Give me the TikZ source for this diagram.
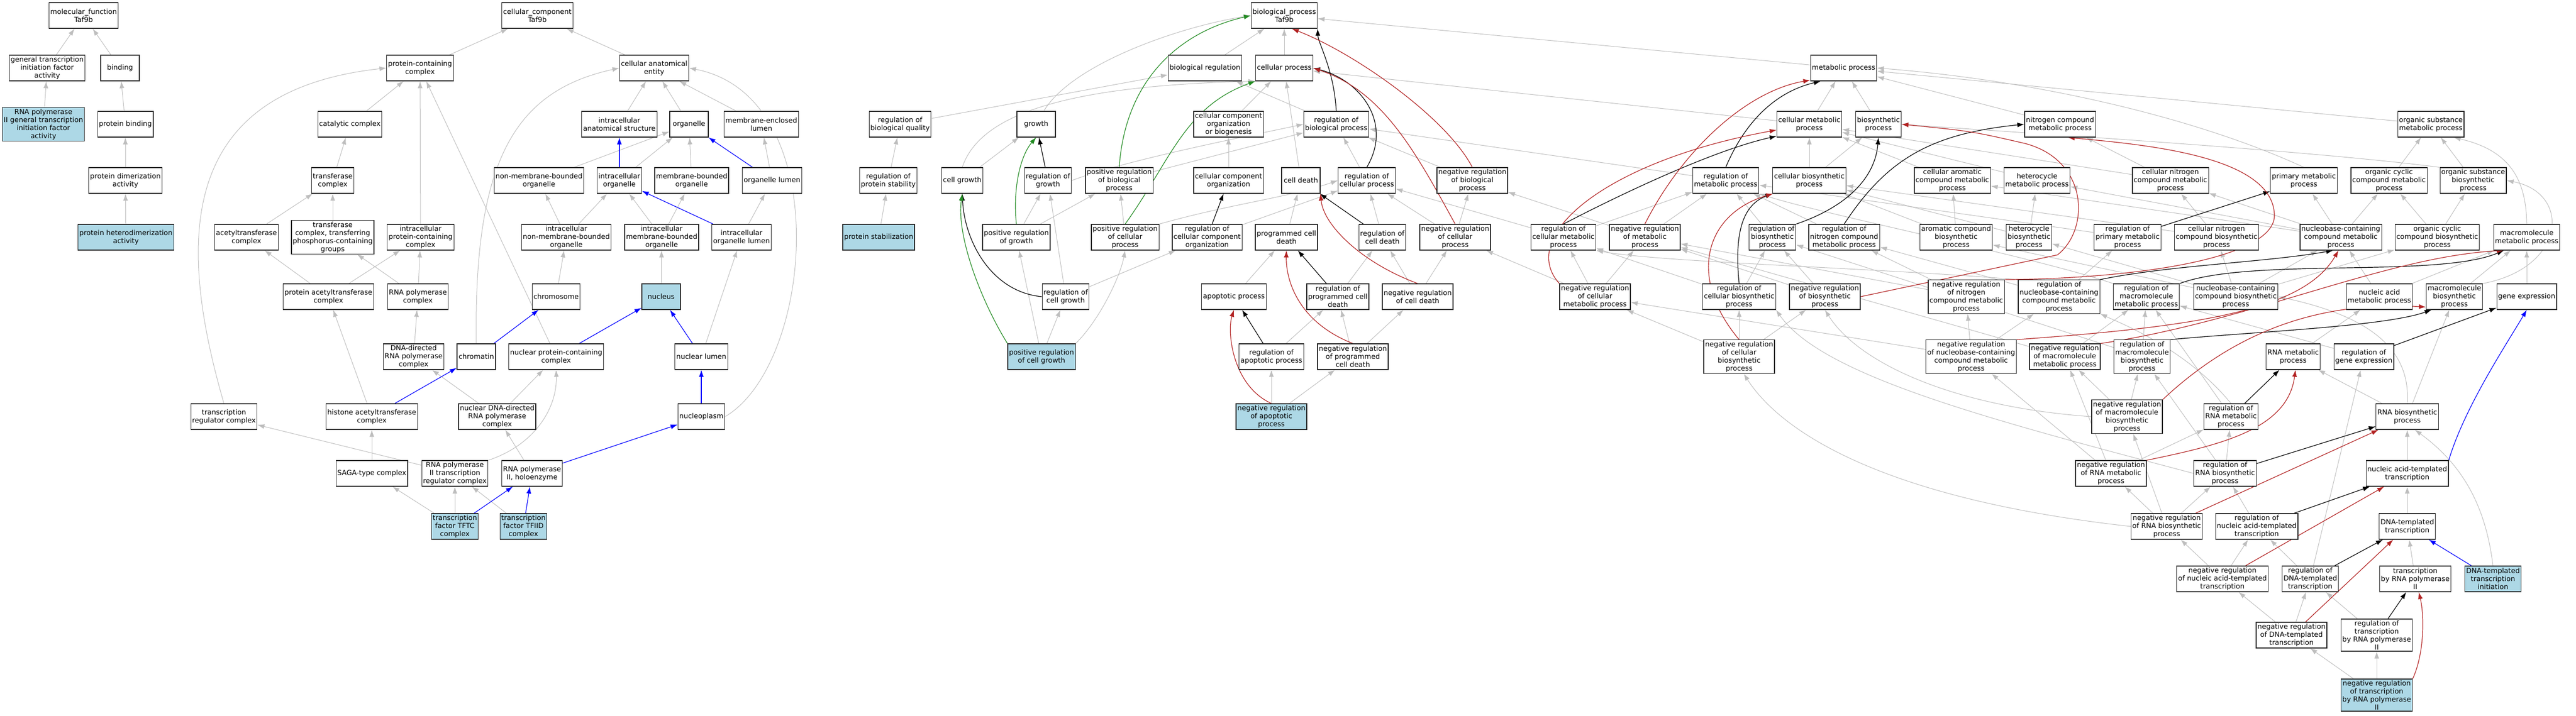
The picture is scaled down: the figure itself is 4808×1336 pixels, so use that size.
\documentclass[tikz,border=0pt]{standalone}
\usepackage{fontspec}
\setmainfont{DejaVu Sans}
\usepackage{xcolor}
\usepackage{tikz}
\usetikzlibrary{arrows.meta,positioning}

\definecolor{isagray}{RGB}{190,190,190}
\definecolor{hitblue}{RGB}{173,216,230}
\definecolor{negred}{RGB}{178,34,34}
\definecolor{posgreen}{RGB}{34,139,34}
\pgfdeclarelayer{background}
\pgfsetlayers{background,main}

\begin{document}
\begin{tikzpicture}[x=1pt,y=-1pt,>={Latex[length=13pt,width=9pt]}]

\tikzstyle{term}=[draw=black!85,line width=1.2pt,fill=white,rectangle,align=center,inner xsep=2.5pt,inner ysep=2.5pt,minimum width=72pt,minimum height=48pt,font=\fontsize{13pt}{15pt}\selectfont]
\tikzstyle{hit}=[term,fill=hitblue]
\tikzset{isa/.style={draw=isagray,line width=1pt,->},
  reg/.style={draw=black,line width=1.2pt,->},
  negreg/.style={draw=negred,line width=1.2pt,->},
  posreg/.style={draw=posgreen,line width=1.2pt,->},
  partof/.style={draw=blue,line width=1.2pt,->}}

\useasboundingbox (0,0) rectangle (4808,1336);

% molecular function
\node[term] (mf) at (156,29) {molecular\_function\\Taf9b};
\node[term] (gtf) at (88,127) {general transcription\\initiation factor\\activity};
\node[term] (bind) at (224,127) {binding};
\node[hit] (pol2gtf) at (81,232) {RNA polymerase\\II general transcription\\initiation factor\\activity};
\node[term] (pbind) at (234,232) {protein binding};
\node[term] (pdim) at (234,337) {protein dimerization\\activity};
\node[hit] (phet) at (235,443) {protein heterodimerization\\activity};

% cellular component
\node[term] (cc) at (1003,29) {cellular\_component\\Taf9b};
\node[term] (pcc) at (784,127) {protein-containing\\complex};
\node[term] (cae) at (1221,127) {cellular anatomical\\entity};
\node[term] (catc) at (653,232) {catalytic complex};
\node[term] (ias) at (1156,232) {intracellular\\anatomical structure};
\node[term] (org) at (1286,232) {organelle};
\node[term] (mel) at (1421,232) {membrane-enclosed\\lumen};
\node[term] (trc) at (621,337) {transferase\\complex};
\node[term] (nmbo) at (1006,337) {non-membrane-bounded\\organelle};
\node[term] (io) at (1156,337) {intracellular\\organelle};
\node[term] (mbo) at (1291,337) {membrane-bounded\\organelle};
\node[term] (ol) at (1441,337) {organelle lumen};
\node[term] (actc) at (460,443) {acetyltransferase\\complex};
\node[term] (trcp) at (621,443) {transferase\\complex, transferring\\phosphorus-containing\\groups};
\node[term] (ipcc) at (785,443) {intracellular\\protein-containing\\complex};
\node[term] (inmbo) at (1057,443) {intracellular\\non-membrane-bounded\\organelle};
\node[term] (imbo) at (1235,443) {intracellular\\membrane-bounded\\organelle};
\node[term] (iol) at (1384,443) {intracellular\\organelle lumen};
\node[term] (pactc) at (613,554) {protein acetyltransferase\\complex};
\node[term] (rnapc) at (780,554) {RNA polymerase\\complex};
\node[term] (chrom) at (1038,554) {chromosome};
\node[hit] (nuc) at (1234,554) {nucleus};
\node[term] (ddrnap) at (772,666) {DNA-directed\\RNA polymerase\\complex};
\node[term] (chrtn) at (889,666) {chromatin};
\node[term] (npcc) at (1038,666) {nuclear protein-containing\\complex};
\node[term] (nlum) at (1309,666) {nuclear lumen};
\node[term] (trrc) at (418,778) {transcription\\regulator complex};
\node[term] (hatc) at (694,778) {histone acetyltransferase\\complex};
\node[term] (nddrnap) at (928,778) {nuclear DNA-directed\\RNA polymerase\\complex};
\node[term] (nplasm) at (1309,778) {nucleoplasm};
\node[term] (saga) at (694,884) {SAGA-type complex};
\node[term] (p2trc) at (849,884) {RNA polymerase\\II transcription\\regulator complex};
\node[term] (p2holo) at (993,884) {RNA polymerase\\II, holoenzyme};
\node[hit] (tftc) at (849,983) {transcription\\factor TFTC\\complex};
\node[hit] (tfiid) at (977,983) {transcription\\factor TFIID\\complex};

% biological process
\node[term] (bp) at (2397,29) {biological\_process\\Taf9b};
\node[term] (breg) at (2249,127) {biological regulation};
\node[term] (cp) at (2397,127) {cellular process};
\node[term] (mp) at (3441,127) {metabolic process};
\node[term] (rbq) at (1680,232) {regulation of\\biological quality};
\node[term] (gro) at (1934,232) {growth};
\node[term] (ccob) at (2293,232) {cellular component\\organization\\or biogenesis};
\node[term] (rbp) at (2494,232) {regulation of\\biological process};
\node[term] (cmp) at (3377,232) {cellular metabolic\\process};
\node[term] (bsp) at (3506,232) {biosynthetic\\process};
\node[term] (ncmp) at (3845,232) {nitrogen compound\\metabolic process};
\node[term] (osmp) at (4537,232) {organic substance\\metabolic process};
\node[term] (rps) at (1658,337) {regulation of\\protein stability};
\node[term] (cgro) at (1796,337) {cell growth};
\node[term] (rgro) at (1956,337) {regulation of\\growth};
\node[term] (prbp) at (2089,337) {positive regulation\\of biological\\process};
\node[term] (cco) at (2293,337) {cellular component\\organization};
\node[term] (cdeath) at (2428,337) {cell death};
\node[term] (rcp) at (2551,337) {regulation of\\cellular process};
\node[term] (nrbp) at (2748,337) {negative regulation\\of biological\\process};
\node[term] (rmp) at (3221,337) {regulation of\\metabolic process};
\node[term] (cbsp) at (3377,337) {cellular biosynthetic\\process};
\node[term] (camp) at (3644,337) {cellular aromatic\\compound metabolic\\process};
\node[term] (hmp) at (3802,337) {heterocycle\\metabolic process};
\node[term] (cncmp) at (4051,337) {cellular nitrogen\\compound metabolic\\process};
\node[term] (pmp) at (4300,337) {primary metabolic\\process};
\node[term] (occmp) at (4459,337) {organic cyclic\\compound metabolic\\process};
\node[term] (osbp) at (4616,337) {organic substance\\biosynthetic\\process};
\node[hit] (pstab) at (1640,443) {protein stabilization};
\node[term] (prgro) at (1897,443) {positive regulation\\of growth};
\node[term] (prcp) at (2100,443) {positive regulation\\of cellular\\process};
\node[term] (rcco) at (2253,443) {regulation of\\cellular component\\organization};
\node[term] (pcd) at (2401,443) {programmed cell\\death};
\node[term] (rcd) at (2580,443) {regulation of\\cell death};
\node[term] (nrcp) at (2716,443) {negative regulation\\of cellular\\process};
\node[term] (rcmp) at (2918,443) {regulation of\\cellular metabolic\\process};
\node[term] (nrmp) at (3070,443) {negative regulation\\of metabolic\\process};
\node[term] (rbsp) at (3308,443) {regulation of\\biosynthetic\\process};
\node[term] (rncmp) at (3442,443) {regulation of\\nitrogen compound\\metabolic process};
\node[term] (acbp) at (3651,443) {aromatic compound\\biosynthetic\\process};
\node[term] (hbp) at (3787,443) {heterocycle\\biosynthetic\\process};
\node[term] (rpmp) at (3971,443) {regulation of\\primary metabolic\\process};
\node[term] (cncbp) at (4137,443) {cellular nitrogen\\compound biosynthetic\\process};
\node[term] (nccmp) at (4369,443) {nucleobase-containing\\compound metabolic\\process};
\node[term] (occbp) at (4549,443) {organic cyclic\\compound biosynthetic\\process};
\node[term] (mmp) at (4716,443) {macromolecule\\metabolic process};
\node[term] (rcgro) at (1989,554) {regulation of\\cell growth};
\node[term] (apop) at (2303,554) {apoptotic process};
\node[term] (rpcd) at (2497,554) {regulation of\\programmed cell\\death};
\node[term] (nrcd) at (2646,554) {negative regulation\\of cell death};
\node[term] (nrcmp) at (2977,554) {negative regulation\\of cellular\\metabolic process};
\node[term] (rcbsp) at (3246,554) {regulation of\\cellular biosynthetic\\process};
\node[term] (nrbsp) at (3406,554) {negative regulation\\of biosynthetic\\process};
\node[term] (nrncmp) at (3670,554) {negative regulation\\of nitrogen\\compound metabolic\\process};
\node[term] (rnccmp) at (3843,554) {regulation of\\nucleobase-containing\\compound metabolic\\process};
\node[term] (rmmp) at (4006,554) {regulation of\\macromolecule\\metabolic process};
\node[term] (nccbp) at (4173,554) {nucleobase-containing\\compound biosynthetic\\process};
\node[term] (namp) at (4441,554) {nucleic acid\\metabolic process};
\node[term] (mbp) at (4581,554) {macromolecule\\biosynthetic\\process};
\node[term] (gexp) at (4716,554) {gene expression};
\node[hit] (prcgro) at (1944,666) {positive regulation\\of cell growth};
\node[term] (rapop) at (2373,666) {regulation of\\apoptotic process};
\node[term] (nrpcd) at (2525,666) {negative regulation\\of programmed\\cell death};
\node[term] (nrcbsp) at (3246,666) {negative regulation\\of cellular\\biosynthetic\\process};
\node[term] (nrnccmp) at (3679,666) {negative regulation\\of nucleobase-containing\\compound metabolic\\process};
\node[term] (nrmmp) at (3854,666) {negative regulation\\of macromolecule\\metabolic process};
\node[term] (rmbp) at (3998,666) {regulation of\\macromolecule\\biosynthetic\\process};
\node[term] (rnamp) at (4280,666) {RNA metabolic\\process};
\node[term] (rgexp) at (4412,666) {regulation of\\gene expression};
\node[hit] (nrapop) at (2373,778) {negative regulation\\of apoptotic\\process};
\node[term] (nrmbp) at (3970,778) {negative regulation\\of macromolecule\\biosynthetic\\process};
\node[term] (rrnamp) at (4164,778) {regulation of\\RNA metabolic\\process};
\node[term] (rnabp) at (4493,778) {RNA biosynthetic\\process};
\node[term] (nrrnamp) at (3940,884) {negative regulation\\of RNA metabolic\\process};
\node[term] (rrnabp) at (4153,884) {regulation of\\RNA biosynthetic\\process};
\node[term] (natt) at (4493,884) {nucleic acid-templated\\transcription};
\node[term] (nrrnabp) at (4044,983) {negative regulation\\of RNA biosynthetic\\process};
\node[term] (rnatt) at (4212,983) {regulation of\\nucleic acid-templated\\transcription};
\node[term] (dtt) at (4493,983) {DNA-templated\\transcription};
\node[term] (nrnatt) at (4148,1081) {negative regulation\\of nucleic acid-templated\\transcription};
\node[term] (rdtt) at (4312,1081) {regulation of\\DNA-templated\\transcription};
\node[term] (tpol2) at (4508,1081) {transcription\\by RNA polymerase\\II};
\node[hit] (dtti) at (4653,1081) {DNA-templated\\transcription\\initiation};
\node[term] (nrdtt) at (4277,1186) {negative regulation\\of DNA-templated\\transcription};
\node[term] (rtpol2) at (4436,1186) {regulation of\\transcription\\by RNA polymerase\\II};
\node[hit] (nrtpol2) at (4436,1298) {negative regulation\\of transcription\\by RNA polymerase\\II};

\begin{pgfonlayer}{background}
% is_a
\foreach \s/\t in {gtf/mf, bind/mf, pol2gtf/gtf, pbind/bind, pdim/pbind, phet/pdim,
  pcc/cc, cae/cc, catc/pcc, ipcc/pcc, npcc/pcc, trc/catc, actc/trc, trcp/trc, pactc/actc, pactc/ipcc,
  rnapc/trcp, rnapc/ipcc, ddrnap/rnapc, hatc/pactc, nddrnap/ddrnap, nddrnap/npcc, p2trc/trrc, saga/hatc,
  p2holo/nddrnap, tftc/saga, tftc/p2trc, tfiid/p2trc, ias/cae, org/cae, mel/cae, nmbo/org, io/org,
  mbo/org, ol/mel, inmbo/nmbo, inmbo/io, imbo/io, imbo/mbo, iol/ol, chrom/inmbo, nuc/imbo, nlum/iol}
  \draw[isa] (\s) -- (\t);
\draw[isa] (trrc.north) .. controls (330,450) and (330,170) .. (pcc.west);
\draw[isa] (chrtn.north) .. controls (884,300) and (960,170) .. (cae.west);
\draw[isa] (p2trc.north east) .. controls (1000,830) and (1040,760) .. (npcc.south);
\draw[isa] (nplasm.east) .. controls (1520,680) and (1560,180) .. (cae.east);
\foreach \s/\t in {breg/bp, cp/bp, rbq/breg, cgro/gro, rbp/breg, ccob/cp, cdeath/cp, rcp/rbp, nrbp/rbp,
  nrcp/rcp, nrcp/nrbp, prbp/rbp, prgro/rgro, prgro/prbp, prcp/prbp, rcco/rcp, cco/ccob, pcd/cdeath,
  rcd/rcp, nrcd/rcd, nrcd/nrcp, apop/pcd, rpcd/rcd, rcgro/rgro, rcgro/rcco, prcgro/rcgro, prcgro/prgro,
  rapop/rpcd, nrpcd/rpcd, nrpcd/nrcd, nrapop/rapop, nrapop/nrpcd, rps/rbq, pstab/rps}
  \draw[isa] (\s) -- (\t);
\draw[isa] (gro.60) .. controls (2000,120) and (2200,50) .. (bp.west);
\draw[isa] (cgro.north) .. controls (1830,210) and (2000,160) .. (cp.south west);
\draw[isa] (rgro.east) .. controls (2100,300) and (2300,260) .. (rbp.west);
\draw[isa] (prcp.north east) .. controls (2300,380) and (2400,370) .. (rcp.west);
\draw[isa] (prcgro.north east) .. controls (2050,600) and (2090,520) .. (prcp.south);
\foreach \s/\t in {mp/bp, cmp/cp, rmp/rbp, nrmp/nrbp, nrcmp/nrcp, rcmp/rcp,
  cmp/mp, bsp/mp, cbsp/cmp, cbsp/bsp, ncmp/mp, osmp/mp, rcmp/rmp, nrmp/rmp, rbsp/rmp, rncmp/rmp,
  rcbsp/rbsp, rcbsp/rcmp, nrbsp/rbsp, nrbsp/nrmp, nrcmp/rcmp, nrcmp/nrmp,
  camp/cmp, hmp/cmp, cncmp/cmp, cncmp/ncmp, acbp/camp, acbp/cbsp, hbp/hmp, hbp/cbsp, cncbp/cncmp, cncbp/cbsp,
  osbp/osmp, occmp/osmp, occbp/occmp, occbp/osbp, nccmp/camp, nccmp/hmp, nccmp/cncmp, nccmp/occmp, nccmp/pmp,
  gexp/mmp, mbp/mmp, namp/nccmp, namp/mmp, nccbp/nccmp, nccbp/occbp, nccbp/cncbp, nccbp/hbp, nccbp/acbp,
  rpmp/rmp, rnccmp/rncmp, rnccmp/rpmp, nrncmp/rncmp, nrncmp/nrmp, nrnccmp/rnccmp, nrnccmp/nrncmp,
  nrnccmp/nrcmp, nrmmp/rmmp, nrmmp/nrmp, rmbp/rmmp, rmbp/rbsp, nrcbsp/rcbsp, nrcbsp/nrbsp, nrcbsp/nrcmp,
  rnamp/namp, rgexp/rmmp, nrmbp/rmbp, nrmbp/nrmmp, rrnamp/rmmp, rrnabp/rrnamp, rrnabp/rmbp,
  nrrnamp/rrnamp, nrrnamp/nrmmp, nrrnamp/nrnccmp, nrrnabp/nrrnamp, nrrnabp/rrnabp, nrrnabp/nrmbp,
  rnatt/rrnabp, nrnatt/nrrnabp, nrnatt/rnatt, rdtt/rnatt, rdtt/rgexp, natt/rnabp, dtt/natt, tpol2/dtt,
  nrdtt/nrnatt, nrdtt/rdtt, rtpol2/rdtt, nrtpol2/nrdtt, nrtpol2/rtpol2, rnabp/rnamp, rnabp/mbp}
  \draw[isa] (\s) -- (\t);
\draw[isa] (pmp.north) .. controls (4100,220) and (3800,150) .. (mp.east);
\draw[isa] (osbp.north west) .. controls (4300,280) and (3800,250) .. (bsp.east);
\draw[isa] (mmp.north) .. controls (4715,330) and (4680,280) .. (osmp.-30);
\draw[isa] (mbp.north east) .. controls (4790,500) and (4800,360) .. (osbp.east);
\draw[isa] (rnccmp.north west) .. controls (3500,500) and (3100,490) .. (rcmp.south east);
\draw[isa] (rmmp.north west) .. controls (3800,480) and (3400,400) .. (rmp.south east);
\draw[isa] (nrmbp.west) .. controls (3650,760) and (3470,680) .. (nrbsp.south);
\draw[isa] (rrnamp.north) .. controls (4080,650) and (3950,600) .. (rnccmp.south east);
\draw[isa] (rrnabp.west) .. controls (3700,780) and (3400,700) .. (rcbsp.south east);
\draw[isa] (nrrnabp.west) .. controls (3500,930) and (3320,800) .. (nrcbsp.-75);
\draw[isa] (rnabp.north) .. controls (4500,650) and (4420,590) .. (nccbp.east);
\draw[isa] (dtti.north) .. controls (4640,950) and (4600,870) .. (rnabp.-60);

% part_of
\foreach \s/\t in {hatc/chrtn, chrtn/chrom, p2holo/nplasm, tftc/p2holo, tfiid/p2holo, io/ias, ol/org,
  iol/io, npcc/nuc, nlum/nuc, nplasm/nlum, dtti/dtt}
  \draw[partof] (\s) -- (\t);
\draw[partof] (natt.north east) .. controls (4600,760) and (4680,640) .. (gexp.south);

% regulates
\foreach \s/\t in {rgro/gro, rcd/cdeath, rpcd/pcd, rapop/apop, rcco/cco, rpmp/pmp, rgexp/gexp,
  rrnamp/rnamp, rrnabp/rnabp, rnatt/natt, rdtt/dtt, rtpol2/tpol2}
  \draw[reg] (\s) -- (\t);
\draw[reg] (rbp.north) .. controls (2490,130) and (2460,80) .. (bp.south east);
\draw[reg] (rcp.north) .. controls (2600,230) and (2540,150) .. (cp.east);
\draw[reg] (rcgro.west) .. controls (1850,545) and (1800,450) .. (cgro.south);
\draw[reg] (rmp.north) .. controls (3260,220) and (3320,170) .. (mp.210);
\draw[reg] (rcmp.north) .. controls (3030,360) and (3200,280) .. (cmp.200);
\draw[reg] (rbsp.north east) .. controls (3450,385) and (3500,330) .. (bsp.south);
\draw[reg] (rncmp.north) .. controls (3520,300) and (3600,250) .. (ncmp.west);
\draw[reg] (rcbsp.north) .. controls (3235,420) and (3260,380) .. (cbsp.south west);
\draw[reg] (rnccmp.north east) .. controls (4050,495) and (4230,490) .. (nccmp.-120);
\draw[reg] (rmmp.north east) .. controls (4200,480) and (4550,520) .. (mmp.-150);
\draw[reg] (rmbp.north east) .. controls (4200,620) and (4450,610) .. (mbp.-150);

% negatively regulates
\foreach \s/\t in {nrrnabp/rnabp, nrnatt/natt, nrdtt/dtt}
  \draw[negreg] (\s) -- (\t);
\draw[negreg] (nrbp.north) .. controls (2700,220) and (2530,100) .. (bp.-60);
\draw[negreg] (nrcp.north) .. controls (2640,280) and (2580,170) .. (cp.east);
\draw[negreg] (nrcd.north) .. controls (2540,490) and (2470,420) .. (cdeath.south east);
\draw[negreg] (nrpcd.north) .. controls (2420,600) and (2400,520) .. (pcd.south);
\draw[negreg] (nrapop.north) .. controls (2300,720) and (2290,620) .. (apop.south);
\draw[negreg] (nrmp.north) .. controls (3140,280) and (3260,170) .. (mp.200);
\draw[negreg] (nrcmp.north west) .. controls (2830,440) and (3000,300) .. (cmp.190);
\draw[negreg] (nrbsp.east) -- (3840,476) .. controls (3900,430) and (3900,300) .. (3780,268) .. controls (3680,245) .. (bsp.east);
\draw[negreg] (nrncmp.north east) .. controls (4000,520) and (4250,480) .. (4245,400) .. controls (4240,290) and (4000,270) .. (ncmp.-60);
\draw[negreg] (nrcbsp.north) .. controls (3150,520) and (3180,400) .. (cbsp.200);
\draw[negreg] (nrnccmp.north east) .. controls (4100,610) and (4300,580) .. (nccmp.-100);
\draw[negreg] (nrmmp.north east) .. controls (4200,600) and (4450,480) .. (mmp.-150);
\draw[negreg] (nrmbp.north east) .. controls (4150,640) and (4300,560) .. (mbp.-160);
\draw[negreg] (nrrnamp.north east) .. controls (4150,830) and (4270,800) .. (rnamp.-80);
\draw[negreg] (nrtpol2.north east) .. controls (4525,1220) and (4525,1150) .. (tpol2.-75);

% positively regulates
\draw[posreg] (prbp.north) .. controls (2100,150) and (2200,60) .. (bp.west);
\draw[posreg] (prcp.north) .. controls (2185,300) and (2210,200) .. (cp.south west);
\draw[posreg] (prgro.north) .. controls (1890,350) and (1905,290) .. (gro.south);
\draw[posreg] (prcgro.north west) .. controls (1830,560) and (1785,440) .. (cgro.south);
\end{pgfonlayer}

\end{tikzpicture}
\end{document}
